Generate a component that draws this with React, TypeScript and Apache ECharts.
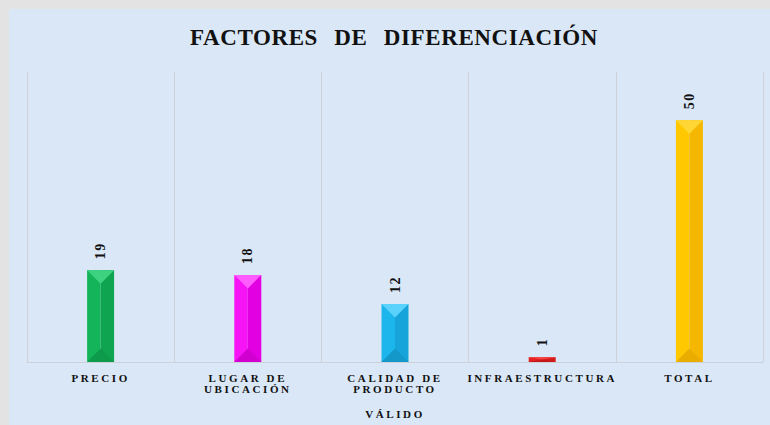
import React, { useEffect, useRef } from "react";
import * as echarts from "echarts";

const categories = ["PRECIO", "LUGAR DE\nUBICACIÓN", "CALIDAD DE\nPRODUCTO", "INFRAESTRUCTURA", "TOTAL"];
const values = [19, 18, 12, 1, 50];
const titleText = "FACTORES DE DIFERENCIACIÓN";
const axisName = "VÁLIDO";

// bevel palettes: [base(left), right side, top light, bottom dark]
const palettes = [
  ["#14b45a", "#0fa44f", "#3dd27f", "#0e9a4b"],
  ["#f613f6", "#e200e2", "#ff5cff", "#d000d0"],
  ["#1db6ec", "#16a4da", "#5ad2fb", "#1398c9"],
  ["#e42222", "#d41c1c", "#f84444", "#c41818"],
  ["#ffc800", "#f5b700", "#ffd633", "#e9ad00"],
];

const FONT = "'Liberation Serif', 'Times New Roman', serif";

export default function App() {
  const ref = useRef<HTMLDivElement>(null);
  useEffect(() => {
    if (!ref.current) return;
    const el = ref.current;
    const chart = echarts.init(el, undefined, { renderer: "svg" });
    const data = values.map((v, i) => [i, v]);
    const renderItem = (params: any, api: any) => {
      const idx = api.value(0);
      const val = api.value(1);
      const top = api.coord([idx, val]);
      const bot = api.coord([idx, 0]);
      const w = 27;
      const xc = top[0];
      const x0 = xc - w / 2;
      const x1 = xc + w / 2;
      const yt = top[1];
      const yb = bot[1];
      const h = yb - yt;
      const d = Math.min(w / 2, h / 2);
      const p = palettes[idx % palettes.length];
      return {
        type: "group",
        children: [
          { type: "rect", shape: { x: x0, y: yt, width: w / 2, height: h }, style: { fill: p[0] } },
          { type: "rect", shape: { x: xc, y: yt, width: w / 2, height: h }, style: { fill: p[1] } },
          { type: "polygon", shape: { points: [[x0, yt], [x1, yt], [xc, yt + d]] }, style: { fill: p[2] } },
          { type: "polygon", shape: { points: [[x0, yb], [x1, yb], [xc, yb - d]] }, style: { fill: p[3] } },
          {
            type: "text",
            x: xc,
            y: yt - 11,
            rotation: Math.PI / 2,
            style: {
              text: String(val),
              fontFamily: FONT,
              fontWeight: "bold",
              fontSize: 14,
              fill: "#111",
              align: "left",
              verticalAlign: "middle",
            },
          },
        ],
      };
    };
    const applySpacing = () => {
      el.querySelectorAll("text").forEach((t: any) => {
        const s = (t.textContent || "").trim();
        if (s === titleText) {
          t.style.letterSpacing = "0.6px";
          t.style.wordSpacing = "10px";
        } else if (/^\d+$/.test(s)) {
          t.style.letterSpacing = "1.5px";
        } else {
          t.style.letterSpacing = "2.6px";
        }
      });
    };
    chart.on("finished", applySpacing);
    chart.setOption({
      animation: false,
      backgroundColor: "#d9e7f6",
      title: {
        text: titleText,
        left: 380,
        top: 12,
        textAlign: "center",
        textStyle: { fontFamily: FONT, fontWeight: "bold", fontSize: 23, color: "#111" },
      },
      grid: { left: 18, right: 7, top: 63, bottom: 63 },
      xAxis: {
        type: "category",
        data: categories,
        name: axisName,
        nameLocation: "middle",
        nameGap: 46,
        nameTextStyle: { fontFamily: FONT, fontWeight: "bold", fontSize: 11, color: "#111" },
        axisLine: { lineStyle: { color: "#cdd2da" } },
        axisTick: { show: false },
        axisLabel: {
          interval: 0,
          margin: 10,
          fontFamily: FONT,
          fontWeight: "bold",
          fontSize: 11,
          lineHeight: 11,
          color: "#111",
        },
        splitLine: { show: true, interval: 0, lineStyle: { color: "#cdd2da" } },
      },
      yAxis: { type: "value", min: 0, max: 60, show: false },
      series: [{ type: "custom", renderItem, data, clip: false }],
    });
    applySpacing();
    const raf = requestAnimationFrame(applySpacing);
    return () => {
      cancelAnimationFrame(raf);
      chart.dispose();
    };
  }, []);
  return (
    <div style={{ position: "fixed", left: 0, top: 0, width: 770, height: 425, background: "#e3e3e3" }}>
      <div ref={ref} style={{ position: "absolute", left: 9, top: 9, width: 761, height: 416 }} />
    </div>
  );
}
